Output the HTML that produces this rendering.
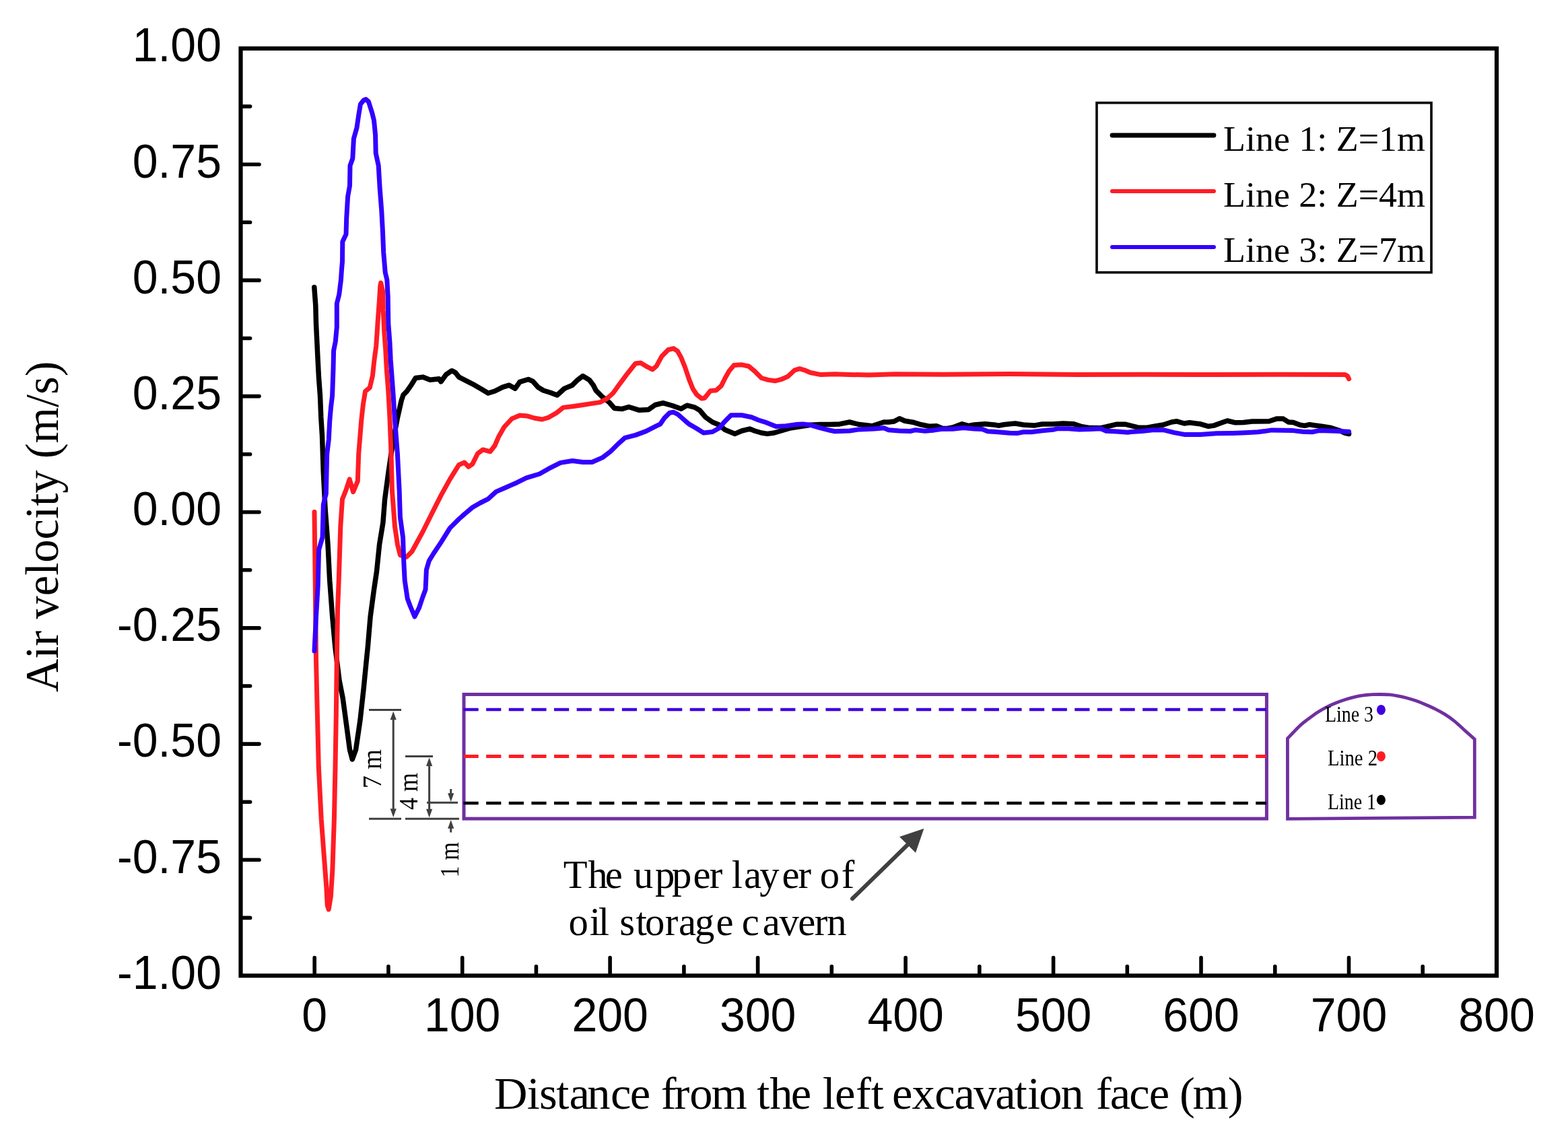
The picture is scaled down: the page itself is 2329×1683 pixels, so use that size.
<!DOCTYPE html>
<html><head><meta charset="utf-8"><title>Air velocity chart</title>
<style>html,body{margin:0;padding:0;background:#fff;}svg{display:block;}</style></head>
<body><svg width="2329" height="1683" viewBox="0 0 2329 1683">
<rect width="2329" height="1683" fill="#fff"/>
<rect x="357.5" y="72" width="1865.5" height="1377.3" fill="none" stroke="#000" stroke-width="6.2"/>
<path d="M467.2,1446 V1422.5 M576.9,1446 V1435.5 M686.7,1446 V1422.5 M796.4,1446 V1435.5 M906.1,1446 V1422.5 M1015.9,1446 V1435.5 M1125.6,1446 V1422.5 M1235.3,1446 V1435.5 M1345.1,1446 V1422.5 M1454.8,1446 V1435.5 M1564.6,1446 V1422.5 M1674.3,1446 V1435.5 M1784.0,1446 V1422.5 M1893.8,1446 V1435.5 M2003.5,1446 V1422.5 M2113.2,1446 V1435.5 M361,1363.4 H371.6 M361,1277.3 H385 M361,1191.2 H371.6 M361,1105.1 H385 M361,1019.0 H371.6 M361,932.9 H385 M361,846.8 H371.6 M361,760.8 H385 M361,674.7 H371.6 M361,588.6 H385 M361,502.5 H371.6 M361,416.4 H385 M361,330.3 H371.6 M361,244.2 H385 M361,158.1 H371.6" stroke="#000" stroke-width="5.6" stroke-linecap="round" fill="none"/>
<g font-family="Liberation Sans, Arial, sans-serif" font-size="68" fill="#000"><text transform="matrix(1 0 0 1.03 329 1468.8)" text-anchor="end">-1.00</text><text transform="matrix(1 0 0 1.03 329 1296.6)" text-anchor="end">-0.75</text><text transform="matrix(1 0 0 1.03 329 1124.4)" text-anchor="end">-0.50</text><text transform="matrix(1 0 0 1.03 329 952.2)" text-anchor="end">-0.25</text><text transform="matrix(1 0 0 1.03 329 780.0)" text-anchor="end">0.00</text><text transform="matrix(1 0 0 1.03 329 607.9)" text-anchor="end">0.25</text><text transform="matrix(1 0 0 1.03 329 435.7)" text-anchor="end">0.50</text><text transform="matrix(1 0 0 1.03 329 263.5)" text-anchor="end">0.75</text><text transform="matrix(1 0 0 1.03 329 91.3)" text-anchor="end">1.00</text>
<text transform="matrix(1 0 0 1.03 467.2 1531.6)" text-anchor="middle">0</text>
<text transform="matrix(1 0 0 1.03 686.7 1531.6)" text-anchor="middle">100</text>
<text transform="matrix(1 0 0 1.03 906.1 1531.6)" text-anchor="middle">200</text>
<text transform="matrix(1 0 0 1.03 1125.6 1531.6)" text-anchor="middle">300</text>
<text transform="matrix(1 0 0 1.03 1345.1 1531.6)" text-anchor="middle">400</text>
<text transform="matrix(1 0 0 1.03 1564.6 1531.6)" text-anchor="middle">500</text>
<text transform="matrix(1 0 0 1.03 1784.0 1531.6)" text-anchor="middle">600</text>
<text transform="matrix(1 0 0 1.03 2003.5 1531.6)" text-anchor="middle">700</text>
<text transform="matrix(1 0 0 1.03 2223.0 1531.6)" text-anchor="middle">800</text>
</g>
<text x="733.9 782.7 801.0 826.2 845.5 872.2 907.0 935.8 966.2 981.7 1001.4 1024.3 1056.6 1109.8 1124.3 1143.2 1174.8 1205.2 1221.7 1239.9 1270.9 1293.7 1312.7 1324.9 1354.5 1388.3 1417.5 1445.9 1478.3 1506.8 1525.9 1543.2 1575.4 1609.7 1628.0 1648.7 1677.2 1706.8 1737.2 1752.0 1771.6 1823.7" y="1646.8" font-family="Liberation Serif, Times New Roman, serif" font-size="68.5">Distance from the left excavation face (m)</text>
<text transform="translate(86.3,1028.3) rotate(-90)" x="0" y="0" font-family="Liberation Serif, Times New Roman, serif" font-size="69" textLength="492" lengthAdjust="spacingAndGlyphs">Air velocity (m/s)</text>
<g fill="none" stroke-width="7" stroke-linejoin="round" stroke-linecap="round">
<polyline points="466.8,426.8 468.8,453.7 469.5,480.5 470.8,507.4 472.1,534.2 473.5,561.1 475.5,587.9 476.8,620.0 478.5,647.0 480.3,701.2 483.0,754.9 487.0,808.6 489.7,862.3 493.7,916.0 497.7,960.0 504.1,1011.3 509.2,1037.0 514.4,1075.4 519.5,1113.8 523.3,1128.0 528.5,1113.8 534.9,1070.3 540.0,1024.1 543.8,985.6 546.4,960.0 550.1,916.0 555.5,875.8 559.5,848.9 563.6,808.6 568.9,776.4 571.6,741.5 577.0,701.2 581.0,674.3 586.4,642.1 590.4,620.6 596.3,594.6 599.0,586.6 604.4,581.2 610.0,573.2 617.3,561.5 628.0,560.1 638.8,564.2 652.2,562.8 654.9,566.9 662.9,556.1 671.0,550.7 676.4,553.4 681.7,560.1 690.0,564.4 701.7,570.3 713.4,577.1 725.1,584.0 734.9,581.0 746.6,575.2 756.4,572.2 765.2,577.1 772.0,567.4 784.7,563.5 791.5,566.4 799.3,575.2 807.1,580.0 816.9,583.0 827.6,586.9 838.4,577.1 850.1,572.2 857.9,564.4 865.7,558.6 875.5,564.4 881.3,572.2 885.2,580.0 895.0,589.8 904.8,597.6 912.6,606.4 924.3,607.4 934.0,604.5 949.7,609.3 963.3,608.4 973.1,601.5 984.8,598.6 998.5,602.5 1011.6,607.3 1020.4,602.2 1032.0,605.1 1039.3,609.5 1048.0,619.7 1058.2,627.0 1068.4,631.3 1077.1,638.6 1091.7,644.4 1101.8,640.0 1113.5,637.1 1120.8,640.0 1131.0,643.0 1139.7,644.4 1149.9,643.0 1160.0,640.0 1174.6,635.7 1189.1,633.5 1203.7,631.3 1218.2,630.6 1232.8,630.6 1247.3,629.9 1261.9,627.0 1276.4,630.6 1295.4,632.8 1312.8,627.0 1320.0,627.0 1328.0,626.0 1336.0,621.7 1344.0,625.2 1356.0,627.2 1368.0,630.8 1380.0,633.2 1391.0,632.8 1400.0,636.5 1407.0,636.5 1415.0,635.0 1429.0,629.8 1439.0,632.5 1447.0,631.0 1463.0,629.8 1479.0,631.3 1483.0,632.2 1491.0,630.8 1500.0,629.7 1508.0,629.0 1520.0,631.0 1536.0,632.1 1548.0,630.0 1564.0,630.0 1579.0,629.0 1595.0,629.8 1607.0,633.7 1619.0,635.6 1635.0,635.7 1643.0,634.0 1659.0,630.2 1671.0,630.2 1680.0,632.3 1692.0,635.3 1704.0,635.3 1716.0,632.9 1728.0,631.0 1740.0,627.0 1748.0,625.8 1759.0,629.0 1767.0,627.8 1783.0,629.8 1795.0,633.3 1803.0,632.1 1815.0,627.8 1823.0,625.0 1835.0,627.8 1847.0,627.4 1860.0,626.0 1864.0,626.0 1885.0,625.7 1896.0,622.1 1906.0,622.1 1914.0,627.1 1921.0,627.4 1931.0,631.3 1938.0,632.4 1945.0,630.6 1952.0,631.7 1963.0,633.1 1977.0,635.5 1991.0,640.1 1998.0,643.4 2003.6,644.5" stroke="#000" stroke-width="7.5"/>
<polyline points="467.0,760.5 468.2,862.3 469.5,980.0 470.8,1037.0 473.3,1139.5 477.2,1216.4 481.0,1267.7 484.9,1319.0 486.2,1344.6 488.2,1351.0 491.3,1331.8 493.8,1293.3 496.4,1216.4 498.0,1139.5 499.3,1062.6 500.2,985.6 501.5,905.0 503.2,862.3 505.8,781.7 508.5,741.5 513.9,728.0 519.2,711.9 524.6,730.7 531.3,714.6 532.7,674.3 536.7,625.0 539.3,601.3 542.6,581.2 549.3,575.8 553.4,558.4 556.0,534.2 558.7,514.1 560.1,494.0 561.4,473.8 563.4,447.0 564.8,424.2 565.7,420.1 568.8,433.6 569.2,460.4 570.8,494.0 572.8,520.8 574.2,547.7 576.8,581.2 578.9,620.0 581.0,674.3 582.4,728.0 586.4,781.7 590.4,808.6 594.4,824.7 603.8,827.4 611.9,819.3 628.0,789.8 641.4,762.9 654.9,736.1 668.3,711.9 681.7,690.4 689.8,687.0 695.9,693.3 701.7,689.4 709.5,673.8 717.3,667.9 728.1,670.8 734.9,662.0 740.8,648.4 748.6,634.7 760.3,622.0 772.0,617.1 783.7,618.1 793.5,621.0 805.2,623.0 815.0,620.1 826.7,613.2 836.4,605.4 852.0,603.5 865.7,601.5 877.4,599.6 891.1,597.6 900.9,592.7 910.6,584.0 920.4,570.3 932.1,554.7 943.8,540.0 951.6,539.0 961.4,544.9 969.2,548.8 975.0,543.9 982.9,529.3 992.6,519.5 1000.4,517.6 1006.3,521.5 1011.6,530.9 1017.5,545.5 1023.3,562.9 1029.1,577.5 1034.9,586.2 1042.2,592.0 1046.6,591.3 1055.3,580.4 1064.0,579.7 1071.3,573.1 1077.1,561.5 1082.9,551.3 1090.2,542.6 1101.8,541.8 1112.0,544.0 1120.8,551.3 1131.0,561.5 1141.1,564.4 1151.3,565.8 1160.0,563.7 1170.2,559.3 1180.4,549.8 1187.7,547.7 1195.0,549.8 1203.7,553.5 1218.2,556.4 1240.1,555.7 1261.9,556.4 1291.0,557.1 1330.0,555.7 1400.0,556.3 1500.0,555.6 1600.0,556.4 1700.0,556.2 1800.0,556.6 1900.0,556.3 1998.0,556.6 2001.5,558.5 2003.6,562.9" stroke="#FF1C24"/>
<polyline points="467.0,967.0 469.5,916.0 472.2,870.4 473.6,816.7 479.0,797.9 480.3,749.5 484.3,733.4 485.7,674.3 488.3,652.8 489.7,626.0 491.5,605.0 493.6,587.9 495.0,547.7 495.6,520.8 498.3,507.4 500.3,485.9 500.3,451.0 503.7,437.6 506.4,416.0 507.5,400.0 508.5,388.6 508.8,359.0 514.0,348.0 514.7,324.0 516.6,292.0 519.5,275.8 520.0,246.0 523.8,235.5 525.4,206.0 530.0,189.8 532.7,171.0 535.4,154.9 540.0,149.0 543.4,147.5 547.4,151.0 552.8,168.0 555.5,179.0 557.6,200.6 558.2,227.4 562.2,246.0 564.1,278.5 566.8,313.4 568.4,343.0 569.7,375.0 572.2,404.7 574.8,415.5 576.2,440.3 576.8,480.5 578.9,507.4 580.2,534.2 582.2,561.1 584.2,587.9 586.2,620.0 590.4,674.3 593.1,728.0 594.4,768.3 598.5,797.9 599.8,835.5 601.2,862.3 605.2,889.2 609.2,900.0 615.9,916.0 622.6,902.6 628.0,886.5 632.0,875.8 633.4,846.2 637.4,832.8 644.1,822.0 654.9,805.9 668.3,784.4 681.7,771.0 690.0,763.6 701.7,753.8 713.4,747.0 725.1,741.1 736.9,730.4 750.5,724.5 768.1,716.7 781.8,709.9 801.3,704.0 815.0,696.2 832.5,687.4 850.1,684.5 865.7,686.5 879.4,686.5 895.0,679.6 906.7,670.8 918.4,659.1 928.2,650.3 943.8,646.4 959.4,640.6 973.1,633.7 980.9,629.8 986.8,621.0 994.6,613.2 1000.4,612.3 1006.3,615.2 1011.6,619.7 1023.3,629.9 1033.5,635.7 1045.1,643.0 1058.2,641.5 1068.4,635.7 1075.7,627.0 1085.8,616.8 1101.8,616.8 1116.4,619.7 1126.6,624.0 1138.2,627.7 1152.8,633.5 1167.3,632.8 1181.9,630.6 1192.1,629.9 1203.7,631.3 1218.2,635.7 1232.8,639.3 1240.1,640.8 1261.9,640.0 1276.4,637.9 1298.3,637.1 1312.8,635.7 1320.0,638.7 1336.0,639.9 1352.0,640.5 1360.0,638.7 1374.0,640.3 1388.0,638.9 1399.0,637.3 1415.0,637.3 1431.0,635.6 1447.0,637.1 1459.0,637.5 1467.0,640.7 1479.0,641.5 1491.0,642.5 1500.0,643.3 1512.0,643.4 1520.0,641.8 1532.0,641.8 1548.0,639.8 1564.0,638.3 1571.0,636.7 1587.0,636.7 1603.0,637.9 1619.0,637.5 1635.0,636.7 1643.0,640.2 1659.0,641.0 1675.0,642.2 1680.0,641.6 1696.0,640.6 1712.0,638.7 1728.0,638.7 1744.0,642.6 1759.0,645.4 1783.0,645.4 1807.0,643.8 1831.0,643.4 1850.0,642.7 1868.0,641.7 1878.0,640.6 1889.0,638.9 1906.0,639.2 1921.0,639.6 1935.0,641.3 1949.0,641.7 1959.0,639.6 1984.0,640.3 2003.6,641.2" stroke="#3300FF"/>
</g>
<rect x="1629" y="152.7" width="497" height="252" fill="none" stroke="#000" stroke-width="3.6"/>
<g stroke-width="6" stroke-linecap="round">
<line x1="1652" y1="201" x2="1803" y2="201" stroke="#000" stroke-width="6.8"/>
<line x1="1652" y1="284" x2="1803" y2="284" stroke="#FF1C24"/>
<line x1="1652" y1="367" x2="1803" y2="367" stroke="#3300FF"/>
</g>
<g font-family="Liberation Serif, Times New Roman, serif" font-size="53" fill="#000">
<text x="1817" y="224" textLength="300" lengthAdjust="spacingAndGlyphs">Line 1: Z=1m</text>
<text x="1817" y="306.5" textLength="300" lengthAdjust="spacingAndGlyphs">Line 2: Z=4m</text>
<text x="1817" y="389" textLength="300" lengthAdjust="spacingAndGlyphs">Line 3: Z=7m</text>
</g>
<rect x="689" y="1031.5" width="1192.4" height="184.6" fill="none" stroke="#7030A0" stroke-width="5"/>
<g stroke-width="4.3" stroke-dasharray="22.2 11.42" fill="none">
<line x1="688.5" y1="1054" x2="1881" y2="1054" stroke="#4000E0"/>
<line x1="688.5" y1="1123.4" x2="1881" y2="1123.4" stroke="#FF1C24" stroke-width="5"/>
<line x1="688.5" y1="1193" x2="1881" y2="1193" stroke="#000"/>
</g>
<g stroke="#404040" stroke-width="3" fill="none">
<path d="M548,1054.4 H596 M548,1216.3 H596 M602,1216.3 H682 M602,1123.4 H643 M634,1192.3 H680 M584.2,1066 V1205 M637.6,1136 V1203 M669.7,1172 V1180 M669.7,1228 V1236.4"/>
</g>
<g fill="#404040">
<path d="M584.2,1056.5 L579.6,1069.3 L588.8000000000001,1069.3 Z"/>
<path d="M584.2,1214 L579.6,1201.2 L588.8000000000001,1201.2 Z"/>
<path d="M637.6,1125.3 L633.0,1138.1 L642.2,1138.1 Z"/>
<path d="M637.6,1214.5 L633.0,1201.7 L642.2,1201.7 Z"/>
<path d="M669.7,1191 L665.1,1178.2 L674.3000000000001,1178.2 Z"/>
<path d="M669.7,1218 L665.1,1230.8 L674.3000000000001,1230.8 Z"/>
</g>
<g font-family="Liberation Serif, Times New Roman, serif" font-size="40" fill="#000">
<text transform="translate(566.2,1171.3) rotate(-90)" textLength="58" lengthAdjust="spacingAndGlyphs">7 m</text>
<text transform="translate(620.1,1203) rotate(-90)" textLength="55" lengthAdjust="spacingAndGlyphs">4 m</text>
<text transform="translate(681.2,1303.6) rotate(-90)" textLength="52.5" lengthAdjust="spacingAndGlyphs">1 m</text>
</g>
<g font-family="Liberation Serif, Times New Roman, serif" font-size="58.6" fill="#000">
<text x="836.8 873.2 898.7 924.7 941.1 972.9 997.9 1029.6 1053.8 1073.3 1086.7 1105 1128.2 1161.6 1185.6 1205.1 1217.8 1249.8" y="1319">The upper layer of</text>
<text x="844.6 875.7 888.8 905.1 920.2 944.4 957.9 987.7 1007.9 1032 1063.6 1089.6 1101.7 1132.7 1157.6 1185.3 1209.7 1228.3" y="1389">oil storage cavern</text>
</g>
<line x1="1266" y1="1335" x2="1350" y2="1253" stroke="#404040" stroke-width="6" stroke-linecap="round"/>
<path d="M1372.4,1230.7 L1336,1243 L1360,1266.8 Z" fill="#404040"/>
<path d="M1912.5,1216.3 L1912.4,1096.9  C1913.87,1095.37 1917.98,1091.00 1921.2,1087.7 C1924.42,1084.40 1928.18,1080.27 1931.7,1077.1 C1935.22,1073.93 1938.18,1071.82 1942.3,1068.7 C1946.42,1065.58 1951.70,1061.47 1956.4,1058.4 C1961.10,1055.33 1965.78,1052.70 1970.5,1050.3 C1975.22,1047.90 1979.98,1045.88 1984.7,1044 C1989.42,1042.12 1994.10,1040.47 1998.8,1039 C2003.50,1037.53 2008.20,1036.25 2012.9,1035.2 C2017.60,1034.15 2022.65,1033.28 2027,1032.7 C2031.35,1032.12 2034.92,1031.90 2039,1031.7 C2043.08,1031.50 2047.33,1031.47 2051.5,1031.5 C2055.67,1031.53 2060.03,1031.55 2064,1031.9 C2067.97,1032.25 2071.07,1032.80 2075.3,1033.6 C2079.53,1034.40 2084.70,1035.45 2089.4,1036.7 C2094.10,1037.95 2098.80,1039.43 2103.5,1041.1 C2108.20,1042.77 2112.90,1044.70 2117.6,1046.7 C2122.30,1048.70 2127.00,1050.73 2131.7,1053.1 C2136.40,1055.47 2141.10,1057.95 2145.8,1060.9 C2150.50,1063.85 2155.20,1067.03 2159.9,1070.8 C2164.60,1074.57 2168.93,1078.97 2174,1083.5 C2179.07,1088.03 2187.58,1095.58 2190.3,1098 L2190.3,1214.2 Z" fill="none" stroke="#7030A0" stroke-width="4.8" stroke-linejoin="miter"/>
<ellipse cx="2051.4" cy="1054.4" rx="6.5" ry="7.5" fill="#4000E0"/>
<ellipse cx="2051.4" cy="1123.4" rx="6.5" ry="7.5" fill="#FF1C24"/>
<ellipse cx="2051.4" cy="1188.2" rx="6.5" ry="7.5" fill="#000"/>
<g font-family="Liberation Serif, Times New Roman, serif" font-size="34" fill="#000">
<text x="1968" y="1072" textLength="72" lengthAdjust="spacingAndGlyphs">Line 3</text>
<text x="1972" y="1137" textLength="74" lengthAdjust="spacingAndGlyphs">Line 2</text>
<text x="1972" y="1202" textLength="72" lengthAdjust="spacingAndGlyphs">Line 1</text>
</g>
</svg></body></html>
